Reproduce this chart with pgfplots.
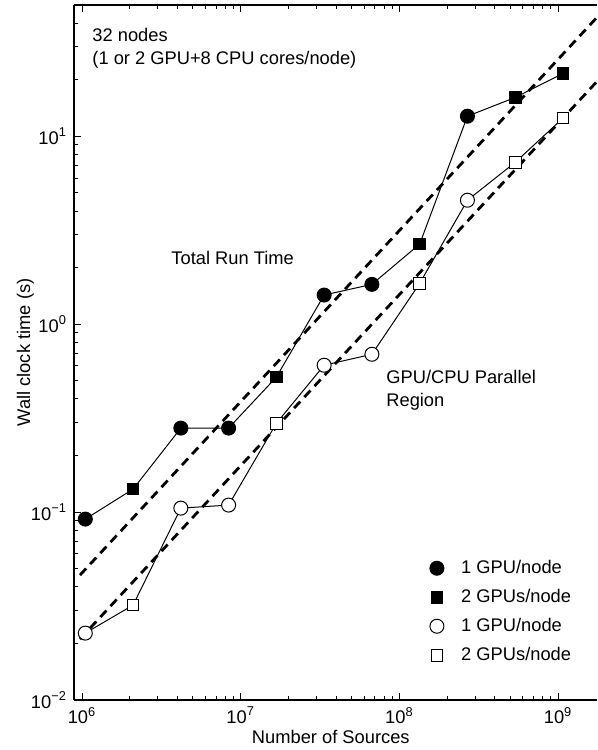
\documentclass[border=0pt]{standalone}
\usepackage{fontspec}
\setmainfont{Liberation Sans}
\usepackage{pgfplots}
\pgfplotsset{compat=1.18}
\begin{document}
\begin{tikzpicture}[font=\fontsize{9.15}{11}\selectfont]
\begin{axis}[
  scale only axis, width=261.5pt, height=347.5pt,
  xmode=log, ymode=log,
  xmin=8.9e5, xmax=1.76e9, ymin=1e-2, ymax=50,
  separate axis lines,
  axis x line*=box, axis y line*=left,
  xtick pos=both, ytick pos=left, tick align=inside,
  axis line style={line width=0.65pt},
  every tick/.style={black, line width=0.5pt},
  major tick length=3.5pt, minor tick length=2pt,
  xtick={1e6,1e7,1e8,1e9},
  xticklabels={10\textsuperscript{6},10\textsuperscript{7},10\textsuperscript{8},10\textsuperscript{9}},
  minor xtick={2e6,3e6,4e6,5e6,6e6,7e6,8e6,9e6,2e7,3e7,4e7,5e7,6e7,7e7,8e7,9e7,2e8,3e8,4e8,5e8,6e8,7e8,8e8,9e8},
  ytick={1e-2,1e-1,1,10},
  yticklabels={10\textsuperscript{−2},10\textsuperscript{−1},10\textsuperscript{0},10\textsuperscript{1}},
  minor ytick={2e-2,3e-2,4e-2,5e-2,6e-2,7e-2,8e-2,9e-2,0.2,0.3,0.4,0.5,0.6,0.7,0.8,0.9,2,3,4,5,6,7,8,9,20,30,40},
  xlabel={Number of Sources},
  ylabel={Wall clock time (s)},
  xlabel style={at={(axis description cs:0.491,-0.0633)}, anchor=base},
  ylabel style={at={(axis description cs:-0.0841,0.5)}, anchor=base, rotate=0},
  legend style={draw=none, fill=none, at={(0.6597,0.127)}, anchor=west, inner sep=0pt,
    nodes={text height=7pt, text depth=2pt, inner sep=0pt}, row sep=5.5pt},
  legend cell align=left,
  legend image code/.code={\draw[#1] plot coordinates {(0.3cm,0cm)}; \path (0cm,0cm) (0.72cm,0cm);},
]
\coordinate (SW) at (rel axis cs:0,0);
\coordinate (NE) at (rel axis cs:1,1);

% connecting lines
\addplot[black, line width=0.5pt, forget plot] coordinates {
 (1048576,0.0918) (2097152,0.1325) (4194304,0.280) (8388608,0.280) (16777216,0.523)
 (33554432,1.43) (67108864,1.63) (134217728,2.67) (268435456,12.8) (536870912,16.1) (1073741824,21.6)};
\addplot[black, line width=0.5pt, forget plot] coordinates {
 (1048576,0.0227) (2097152,0.0320) (4194304,0.105) (8388608,0.109) (16777216,0.297)
 (33554432,0.605) (67108864,0.692) (134217728,1.65) (268435456,4.57) (536870912,7.27) (1073741824,12.5)};

% markers
\addplot[only marks, mark=*, mark size=3.5pt, mark options={fill=black, draw=black, line width=0.5pt}] coordinates {
 (1048576,0.0918) (4194304,0.280) (8388608,0.280) (33554432,1.43) (67108864,1.63) (268435456,12.8)};
\addlegendentry{1 GPU/node}
\addplot[only marks, mark=square*, mark size=2.9pt, mark options={fill=black, draw=black, line width=0.5pt}] coordinates {
 (2097152,0.1325) (16777216,0.523) (134217728,2.67) (536870912,16.1) (1073741824,21.6)};
\addlegendentry{2 GPUs/node}
\addplot[only marks, mark=*, mark size=3.5pt, mark options={fill=white, draw=black, line width=0.5pt}] coordinates {
 (1048576,0.0227) (4194304,0.105) (8388608,0.109) (33554432,0.605) (67108864,0.692) (268435456,4.57)};
\addlegendentry{1 GPU/node}
\addplot[only marks, mark=square*, mark size=2.9pt, mark options={fill=white, draw=black, line width=0.5pt}] coordinates {
 (2097152,0.0320) (16777216,0.297) (134217728,1.65) (536870912,7.27) (1073741824,12.5)};
\addlegendentry{2 GPUs/node}

% fit lines
\addplot[black, line width=1.4pt, dash pattern=on 4.5pt off 3pt, forget plot] coordinates {(9.7e5,0.0462) (1.76e9,43.0)};
\addplot[black, line width=1.4pt, dash pattern=on 4.5pt off 3pt, forget plot] coordinates {(9.7e5,0.0211) (1.76e9,19.6)};

\node[anchor=west, align=left, inner sep=0pt, font=\fontsize{9.15}{11.5}\selectfont] at (axis cs:1.156e6,29.4) {32 nodes\\(1 or 2 GPU+8 CPU cores/node)};
\node[anchor=west, inner sep=0pt] at (axis cs:3.64e6,2.24) {Total Run Time};
\node[anchor=west, align=left, inner sep=0pt, font=\fontsize{9.15}{11.5}\selectfont] at (axis cs:8.23e7,0.446) {GPU/CPU Parallel\\Region};
\end{axis}
\pgfresetboundingbox
\useasboundingbox ([shift={(-37pt,-25pt)}]SW) rectangle ([shift={(0pt,2.5pt)}]NE);
\end{tikzpicture}
\end{document}
